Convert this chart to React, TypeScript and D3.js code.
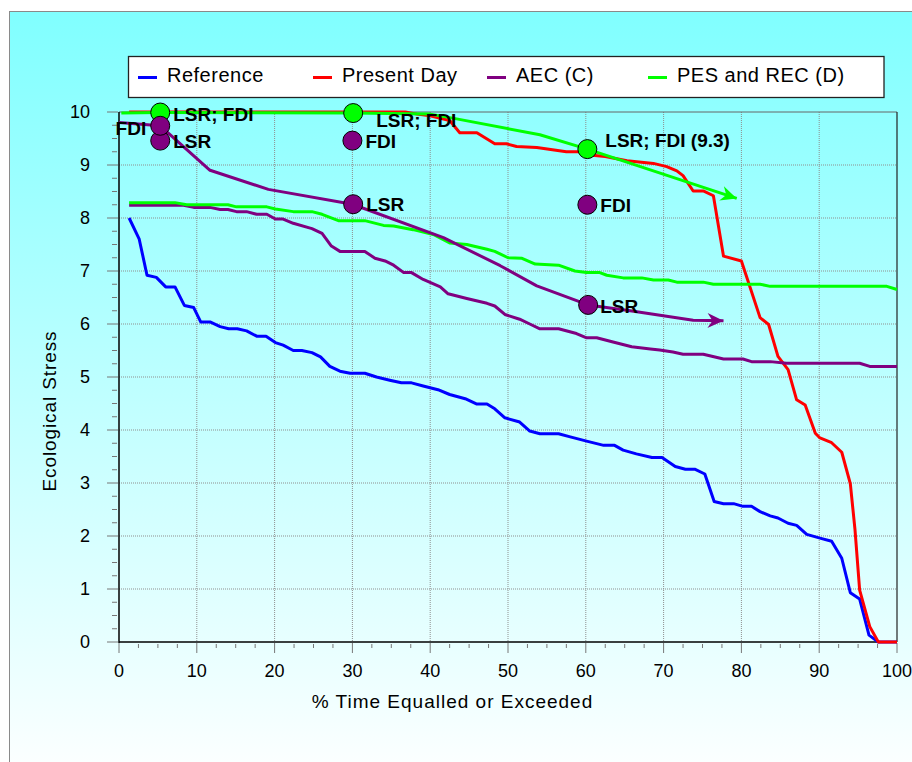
import React from "react";
import * as d3 from "d3";

// ---- Data -------------------------------------------------------------
const xTickValues = [0, 10, 20, 30, 40, 50, 60, 70, 80, 90, 100];
const yTickValues = [0, 1, 2, 3, 4, 5, 6, 7, 8, 9, 10];

const legendLabels = ["Reference", "Present Day", "AEC (C)", "PES and REC (D)"];

// [% time equalled or exceeded, ecological stress]
const referenceSeries: [number, number][] = [
  [1.3, 8.0], [2.6, 7.6], [3.6, 6.92], [4.8, 6.88], [6.0, 6.7], [7.2, 6.7], [8.4, 6.35],
  [9.6, 6.31], [10.5, 6.04], [11.7, 6.04], [13.0, 5.95], [14.1, 5.91], [15.2, 5.91],
  [16.4, 5.87], [17.7, 5.77], [18.9, 5.77], [20.1, 5.65], [21.1, 5.6], [22.4, 5.5],
  [23.5, 5.5], [24.8, 5.46], [25.9, 5.38], [27.1, 5.2], [28.4, 5.11], [29.7, 5.07],
  [31.6, 5.07], [33.1, 5.0], [34.8, 4.94], [36.3, 4.89], [37.6, 4.89], [39.1, 4.83],
  [41.0, 4.76], [42.5, 4.67], [44.5, 4.59], [46.0, 4.49], [47.3, 4.49], [48.3, 4.4],
  [49.6, 4.23], [51.5, 4.15], [52.8, 3.98], [54.1, 3.93], [56.5, 3.93], [58.0, 3.87],
  [60.1, 3.79], [62.3, 3.71], [63.7, 3.71], [64.8, 3.62], [66.5, 3.55], [68.5, 3.48],
  [69.8, 3.48], [71.5, 3.31], [72.8, 3.26], [74.0, 3.26], [75.3, 3.17], [76.5, 2.65],
  [77.7, 2.61], [79.0, 2.61], [80.2, 2.56], [81.3, 2.56], [82.4, 2.46], [83.7, 2.38],
  [84.7, 2.34], [86.0, 2.24], [87.1, 2.2], [88.4, 2.03], [90.1, 1.96], [91.6, 1.9],
  [92.9, 1.58], [94.0, 0.93], [95.2, 0.81], [96.4, 0.13], [97.6, 0.0], [100, 0.0],
];

const presentDaySeries: [number, number][] = [
  [1.3, 10.0], [36.8, 10.0], [38.3, 9.96], [40.0, 9.93], [42.5, 9.84], [43.8, 9.61],
  [46.0, 9.61], [48.3, 9.4], [49.8, 9.4], [51.1, 9.35], [53.7, 9.33], [57.5, 9.25],
  [59.3, 9.25], [60.5, 9.19], [62.5, 9.16], [65.3, 9.08], [68.7, 9.03], [70.4, 8.97],
  [71.7, 8.89], [72.5, 8.8], [73.8, 8.51], [75.1, 8.51], [76.4, 8.42], [77.7, 7.28],
  [80.0, 7.19], [82.4, 6.12], [83.5, 5.99], [84.7, 5.39], [86.0, 5.14], [87.1, 4.57],
  [88.2, 4.47], [89.5, 3.94], [90.1, 3.85], [91.6, 3.76], [92.9, 3.58], [94.0, 2.99],
  [94.6, 2.12], [95.2, 0.98], [96.5, 0.29], [97.6, 0.0], [100, 0.0],
];

const aecSeries: [number, number][] = [
  [1.3, 8.24], [8.3, 8.24], [9.6, 8.2], [11.7, 8.2], [13.0, 8.16], [14.0, 8.16],
  [15.1, 8.12], [16.4, 8.12], [17.7, 8.07], [19.0, 8.07], [20.1, 7.98], [21.1, 7.98],
  [22.4, 7.9], [24.8, 7.8], [26.1, 7.71], [27.3, 7.47], [28.4, 7.37], [31.6, 7.37],
  [32.9, 7.24], [34.2, 7.19], [35.3, 7.11], [36.6, 6.97], [37.6, 6.97], [39.1, 6.84],
  [41.3, 6.7], [42.3, 6.57], [44.7, 6.48], [47.3, 6.39], [48.3, 6.34], [49.6, 6.18],
  [51.5, 6.09], [52.8, 6.0], [54.1, 5.91], [56.5, 5.91], [58.8, 5.82], [60.1, 5.74],
  [61.4, 5.74], [63.5, 5.66], [65.9, 5.57], [68.3, 5.53], [69.5, 5.51], [71.2, 5.47],
  [72.5, 5.43], [75.1, 5.43], [77.7, 5.34], [80.2, 5.34], [81.3, 5.29], [83.7, 5.29],
  [85.8, 5.26], [95.2, 5.26], [96.5, 5.2], [100, 5.2],
];

const pesRecSeries: [number, number][] = [
  [1.3, 8.29], [7.2, 8.29], [8.7, 8.25], [14.0, 8.25], [15.1, 8.21], [19.0, 8.21],
  [20.1, 8.17], [22.4, 8.12], [24.8, 8.12], [26.1, 8.07], [28.2, 7.95], [31.6, 7.95],
  [34.0, 7.86], [35.3, 7.85], [37.8, 7.78], [40.4, 7.69], [42.5, 7.53], [44.7, 7.5],
  [47.3, 7.41], [48.3, 7.37], [50.0, 7.25], [51.8, 7.24], [53.5, 7.13], [56.5, 7.11],
  [58.6, 7.0], [60.1, 6.97], [61.8, 6.97], [62.7, 6.92], [64.8, 6.87], [67.2, 6.87],
  [68.7, 6.83], [70.6, 6.83], [71.7, 6.79], [75.1, 6.79], [76.4, 6.75], [82.4, 6.75],
  [83.7, 6.71], [98.7, 6.71], [100, 6.65],
];

// Target trajectories ending in arrows
const aecTargetPath: [number, number][] = [
  [0, 9.8], [5.3, 9.74], [11.7, 8.9], [19.2, 8.54], [30.0, 8.26], [41.7, 7.63],
  [49.0, 7.1], [53.7, 6.72], [60.3, 6.36], [65.7, 6.25], [73.8, 6.07], [77.7, 6.06],
];
const pesRecTargetPath: [number, number][] = [
  [0.3, 9.98], [5.3, 9.99], [30.0, 9.98], [40.0, 9.96], [43.4, 9.87], [54.1, 9.57],
  [60.2, 9.3], [79.4, 8.37],
];

// Annotated points: [x, y, text]
const pesRecPoints: [number, number, string][] = [
  [5.3, 9.99, "LSR; FDI"],
  [30.1, 9.98, "LSR; FDI"],
  [60.2, 9.3, "LSR; FDI (9.3)"],
];
const aecPoints: [number, number, string][] = [
  [5.3, 9.46, "LSR"],
  [5.3, 9.74, "FDI"],
  [30.0, 9.46, "FDI"],
  [30.1, 8.26, "LSR"],
  [60.2, 8.25, "FDI"],
  [60.3, 6.36, "LSR"],
];

// ---- Layout -----------------------------------------------------------
const W = 912;
const H = 762;
const FONT = "'Liberation Sans', Arial, Helvetica, sans-serif";
const COLORS = ["#0000ff", "#ff0000", "#800080", "#00ff00"];

// label offsets (dx, dy to baseline, anchor) for annotation text
const pesRecLabelPos: [number, number, string][] = [
  [13, 8, "start"],
  [23, 14, "start"],
  [18, -2, "start"],
];
const aecLabelPos: [number, number, string][] = [
  [13, 7.5, "start"],
  [-14, 9, "end"],
  [13, 7.5, "start"],
  [13, 7, "start"],
  [13, 7.5, "start"],
  [12, 8, "start"],
];
const legendSwatchX = [138, 313, 487, 648];

export default function App() {
  const x = d3.scaleLinear().domain([0, 100]).range([119, 897]);
  const y = d3.scaleLinear().domain([0, 10]).range([642, 112]);

  const line = d3
    .line<[number, number]>()
    .x((d) => x(d[0]))
    .y((d) => y(d[1]));

  const xMinor = d3.range(0, 100.01, 2.5).filter((v) => v % 10 !== 0);
  const yMinor = d3.range(0, 10.001, 0.25).filter((v) => Math.abs(v - Math.round(v)) > 1e-6);

  const series: [number, number][][] = [referenceSeries, presentDaySeries, aecSeries, pesRecSeries];

  const [x0, x1] = x.range();
  const [y0, y1] = y.range();

  return (
    <svg
      width={W}
      height={H}
      style={{ position: "absolute", left: 0, top: 0, fontFamily: FONT }}
    >
      <defs>
        <linearGradient id="bg" gradientUnits="userSpaceOnUse" x1="0" y1="11" x2="0" y2="762">
          <stop offset="0" stopColor="#80ffff" />
          <stop offset="1" stopColor="#fbffff" />
        </linearGradient>
        <marker
          id="arrowPurple"
          markerUnits="userSpaceOnUse"
          viewBox="-17 -8 18 16"
          refX="0"
          refY="0"
          markerWidth="18"
          markerHeight="16"
          orient="auto"
        >
          <path d="M0,0 L-16,-7.5 L-11,0 L-16,7.5 Z" fill={COLORS[2]} />
        </marker>
        <marker
          id="arrowGreen"
          markerUnits="userSpaceOnUse"
          viewBox="-17 -8 18 16"
          refX="0"
          refY="0"
          markerWidth="18"
          markerHeight="16"
          orient="auto"
        >
          <path d="M0,0 L-16,-7.5 L-11,0 L-16,7.5 Z" fill={COLORS[3]} />
        </marker>
      </defs>

      {/* outer frame */}
      <rect x={9.5} y={11.5} width={940} height={800} fill="url(#bg)" stroke="#8a8a8a" strokeWidth={1} />

      {/* grid */}
      <g stroke="#8f8f8f" strokeWidth={1} strokeDasharray="1,1">
        {xTickValues.slice(1, -1).map((v) => (
          <line key={"gx" + v} x1={x(v)} x2={x(v)} y1={y1} y2={y0} />
        ))}
        {yTickValues.slice(1, -1).map((v) => (
          <line key={"gy" + v} x1={x0} x2={x1} y1={y(v)} y2={y(v)} />
        ))}
      </g>

      {/* plot border */}
      <line x1={x0} x2={x1} y1={y1} y2={y1} stroke="#666" strokeWidth={1} />
      <line x1={x1} x2={x1} y1={y1} y2={y0} stroke="#222" strokeWidth={1.2} />
      <line x1={x0} x2={x1} y1={y0} y2={y0} stroke="#000" strokeWidth={1.5} />
      <line x1={x0} x2={x0} y1={y1} y2={y0 + 1} stroke="#000" strokeWidth={1.5} />

      {/* y ticks */}
      <g stroke="#777" strokeWidth={1}>
        {yTickValues.map((v) => (
          <line key={"yt" + v} x1={x0 - 12} x2={x0 - 1} y1={y(v)} y2={y(v)} />
        ))}
        {yMinor.map((v) => (
          <line key={"ym" + v} x1={x0 - 7} x2={x0 - 2} y1={y(v)} y2={y(v)} />
        ))}
        {xTickValues.map((v) => (
          <line key={"xt" + v} x1={x(v)} x2={x(v)} y1={y0 + 1} y2={y0 + 11} />
        ))}
        {xMinor.map((v) => (
          <line key={"xm" + v} x1={x(v)} x2={x(v)} y1={y0 + 2} y2={y0 + 6} />
        ))}
      </g>

      {/* tick labels */}
      <g fontSize={18} fill="#000">
        {yTickValues.map((v) => (
          <text key={"yl" + v} x={90} y={y(v)} textAnchor="end" dominantBaseline="central">
            {v}
          </text>
        ))}
        {xTickValues.map((v) => (
          <text key={"xl" + v} x={x(v)} y={677} textAnchor="middle">
            {v}
          </text>
        ))}
      </g>

      {/* axis titles */}
      <text x={452.5} y={708} textAnchor="middle" fontSize={19} letterSpacing={1}>
        % Time Equalled or Exceeded
      </text>
      <text
        transform="translate(56,411) rotate(-90)"
        textAnchor="middle"
        fontSize={19}
        letterSpacing={0.9}
      >
        Ecological Stress
      </text>

      {/* flow-duration series */}
      {series.map((s, i) => (
        <path
          key={"s" + i}
          d={line(s) || ""}
          fill="none"
          stroke={COLORS[i]}
          strokeWidth={3}
          strokeLinejoin="round"
        />
      ))}

      {/* target trajectories */}
      <path
        d={line(aecTargetPath) || ""}
        fill="none"
        stroke={COLORS[2]}
        strokeWidth={3}
        strokeLinejoin="round"
        markerEnd="url(#arrowPurple)"
      />
      <path
        d={line(pesRecTargetPath) || ""}
        fill="none"
        stroke={COLORS[3]}
        strokeWidth={3}
        strokeLinejoin="round"
        markerEnd="url(#arrowGreen)"
      />

      {/* annotated points */}
      {pesRecPoints.map((p, i) => (
        <circle key={"pc" + i} cx={x(p[0])} cy={y(p[1])} r={9.5} fill={COLORS[3]} stroke="#000" strokeWidth={1} />
      ))}
      {aecPoints.map((p, i) => (
        <circle key={"ac" + i} cx={x(p[0])} cy={y(p[1])} r={9.5} fill={COLORS[2]} stroke="#000" strokeWidth={1} />
      ))}
      <g fontSize={19} fontWeight="bold" fill="#000">
        {pesRecPoints.map((p, i) => (
          <text
            key={"pt" + i}
            x={x(p[0]) + pesRecLabelPos[i][0]}
            y={y(p[1]) + pesRecLabelPos[i][1]}
            textAnchor={pesRecLabelPos[i][2]}
          >
            {p[2]}
          </text>
        ))}
        {aecPoints.map((p, i) => (
          <text
            key={"at" + i}
            x={x(p[0]) + aecLabelPos[i][0]}
            y={y(p[1]) + aecLabelPos[i][1]}
            textAnchor={aecLabelPos[i][2]}
          >
            {p[2]}
          </text>
        ))}
      </g>

      {/* legend */}
      <rect x={128.5} y={56.5} width={755.5} height={41} fill="#fff" stroke="#222" strokeWidth={1.3} />
      {legendLabels.map((lab, i) => (
        <g key={"lg" + i}>
          <line
            x1={legendSwatchX[i]}
            x2={legendSwatchX[i] + 19}
            y1={77.5}
            y2={77.5}
            stroke={COLORS[i]}
            strokeWidth={3}
          />
          <text x={legendSwatchX[i] + 29} y={82} fontSize={20} letterSpacing={0.5} fill="#000">
            {lab}
          </text>
        </g>
      ))}
    </svg>
  );
}
